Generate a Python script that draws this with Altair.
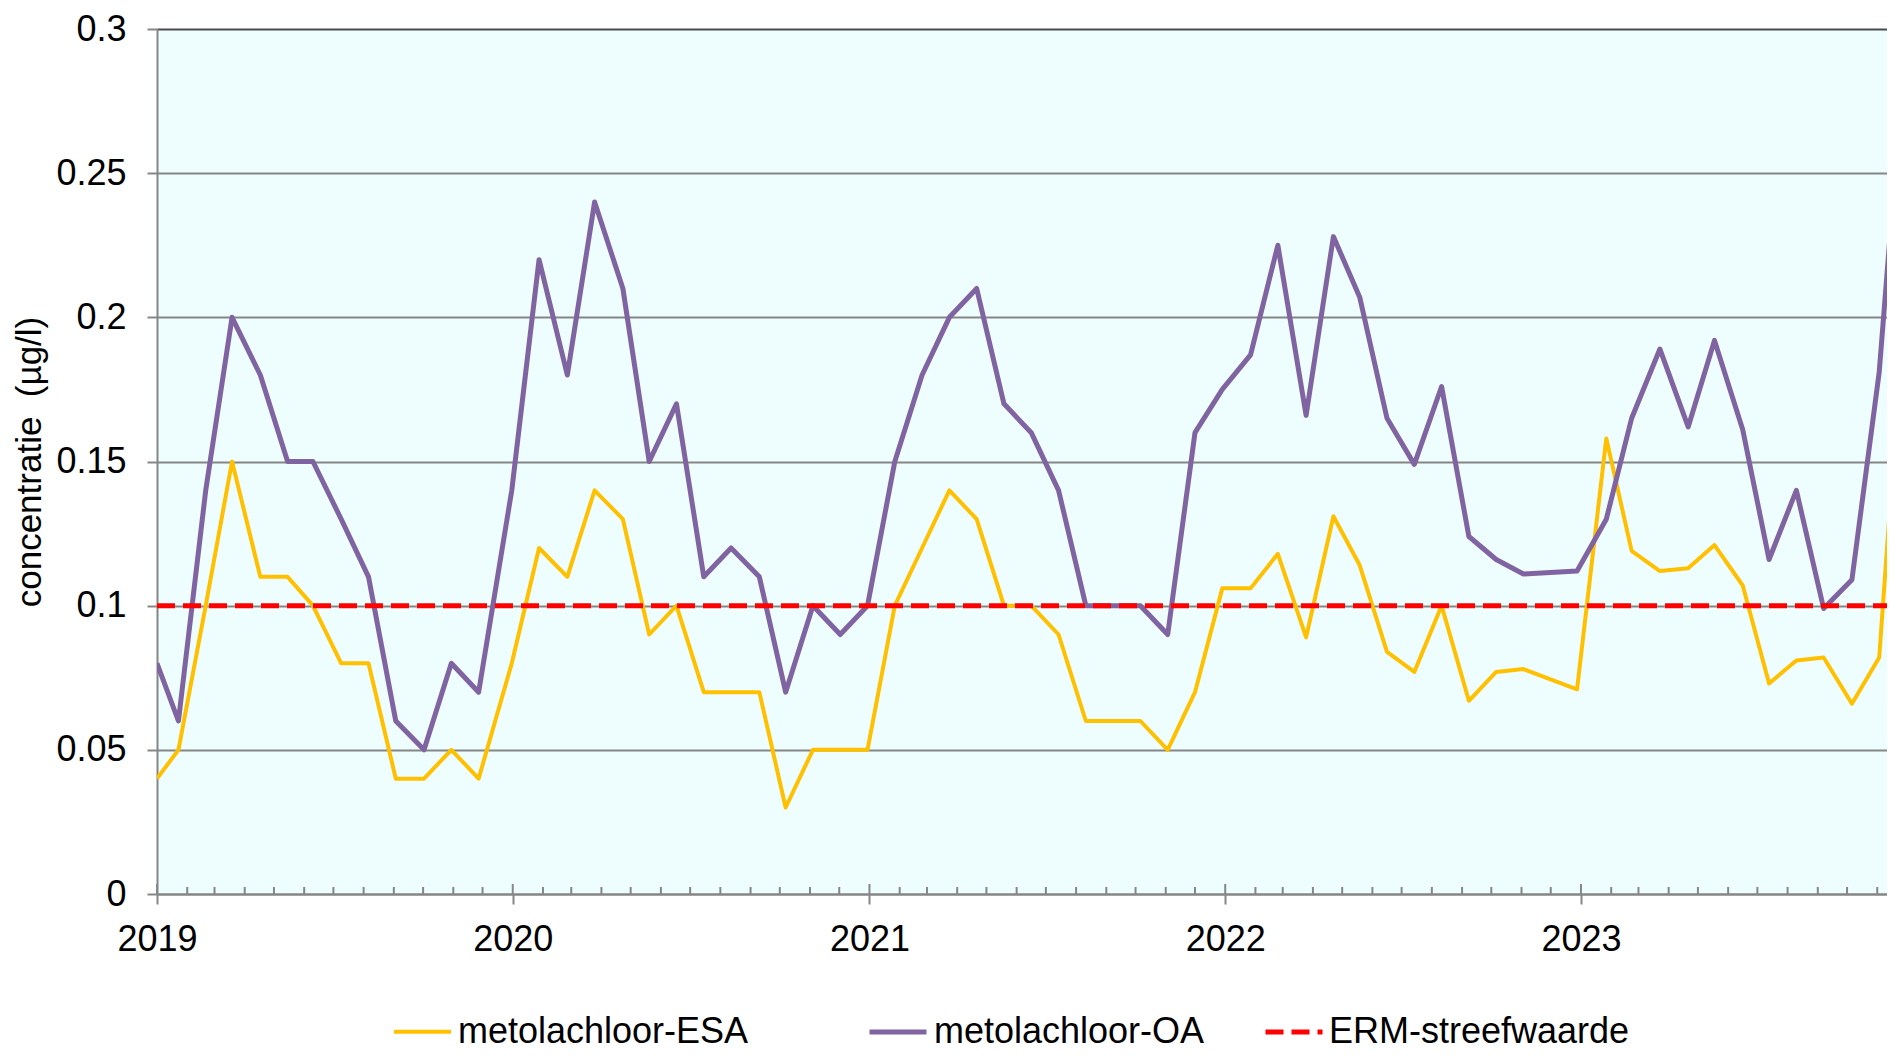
import altair as alt
import pandas as pd

# ---------------- data ----------------
dates = [
    "2019-01-01", "2019-01-23", "2019-02-20", "2019-03-19", "2019-04-17", "2019-05-15", "2019-06-10",
    "2019-07-09", "2019-08-06", "2019-09-03", "2019-10-02", "2019-10-30", "2019-11-27", "2019-12-31",
    "2020-01-28", "2020-02-26", "2020-03-25", "2020-04-23", "2020-05-20", "2020-06-17", "2020-07-15",
    "2020-08-12", "2020-09-10", "2020-10-07", "2020-11-04", "2020-12-02", "2020-12-30",
    "2021-01-27", "2021-02-24", "2021-03-24", "2021-04-21", "2021-05-19", "2021-06-16", "2021-07-14",
    "2021-08-11", "2021-09-08", "2021-10-06", "2021-11-03", "2021-12-01", "2021-12-29",
    "2022-01-27", "2022-02-24", "2022-03-25", "2022-04-22", "2022-05-19", "2022-06-16", "2022-07-14",
    "2022-08-11", "2022-09-08", "2022-10-06", "2022-11-03", "2022-12-28",
    "2023-01-27", "2023-02-22", "2023-03-23", "2023-04-21", "2023-05-18", "2023-06-16", "2023-07-13",
    "2023-08-10", "2023-09-07", "2023-10-06", "2023-11-03", "2023-12-01",
]

esa = [
    0.04, 0.05, 0.10, 0.15, 0.11, 0.11, 0.10, 0.08, 0.08, 0.04, 0.04, 0.05, 0.04, 0.08,
    0.12, 0.11, 0.14, 0.13, 0.09, 0.10, 0.07, 0.07, 0.07, 0.03, 0.05, 0.05, 0.05,
    0.10, 0.12, 0.14, 0.13, 0.10, 0.10, 0.09, 0.06, 0.06, 0.06, 0.05, 0.07, 0.106,
    0.106, 0.118, 0.089, 0.131, 0.114, 0.084, 0.077, 0.10, 0.067, 0.077, 0.078, 0.071,
    0.158, 0.119, 0.112, 0.113, 0.121, 0.107, 0.073, 0.081, 0.082, 0.066, 0.082, 0.215,
]

oa = [
    0.08, 0.06, 0.14, 0.20, 0.18, 0.15, 0.15, 0.13, 0.11, 0.06, 0.05, 0.08, 0.07, 0.14,
    0.22, 0.18, 0.24, 0.21, 0.15, 0.17, 0.11, 0.12, 0.11, 0.07, 0.10, 0.09, 0.10,
    0.15, 0.18, 0.20, 0.21, 0.17, 0.16, 0.14, 0.10, 0.10, 0.10, 0.09, 0.16, 0.175,
    0.187, 0.225, 0.166, 0.228, 0.207, 0.165, 0.149, 0.176, 0.124, 0.116, 0.111, 0.112,
    0.13, 0.165, 0.189, 0.162, 0.192, 0.161, 0.116, 0.14, 0.099, 0.109, 0.181, 0.30,
]

series_names = ["metolachloor-ESA", "metolachloor-OA"]
series_colors = ["#FFC000", "#8064A2"]
series_widths = [4, 5]

ref_name = "ERM-streefwaarde"
ref_value = 0.1
ref_dates = ["2019-01-01", "2023-12-31"]

year_ticks = [2019, 2020, 2021, 2022, 2023]
y_ticks = [0, 0.05, 0.1, 0.15, 0.2, 0.25, 0.3]

# ---------------- tables ----------------
df = pd.concat([
    pd.DataFrame({"date": dates, "value": esa, "series": series_names[0]}),
    pd.DataFrame({"date": dates, "value": oa, "series": series_names[1]}),
], ignore_index=True)

df_ref = pd.DataFrame({"date": ref_dates, "value": [ref_value] * len(ref_dates), "name": ref_name})

month_starts = [f"{y}-{m:02d}-01" for y in range(2019, 2024) for m in range(1, 13) if not (y == 2023 and m > 11)]
df_months = pd.DataFrame({"date": [d for d in month_starts if not d.endswith("-01-01")]})
df_years = pd.DataFrame({"date": [f"{y}-01-01" for y in year_ticks]})

# ---------------- layout ----------------
W, H = 1730, 865
GRID = "#868686"
FONT = "Liberation Sans"
FS = 36

x_scale = alt.Scale(
    type="utc",
    domain=[alt.DateTime(year=2019, month=1, date=1, utc=True),
            alt.DateTime(year=2023, month=11, date=11, utc=True)],
    nice=False,
)
x_axis = alt.Axis(
    values=[alt.DateTime(year=y, month=1, date=1, utc=True) for y in year_ticks],
    format="%Y", labelFontSize=FS, labelColor="black", labelFont=FONT,
    labelFlush=False, labelOverlap=False, labelPadding=18,
    tickSize=10, tickWidth=2, tickColor=GRID,
    domainColor=GRID, domainWidth=2, grid=False, title=None,
)
X = alt.X("date:T", scale=x_scale, axis=x_axis)

y_scale = alt.Scale(domain=[0, 0.3], nice=False, zero=True)
y_axis = alt.Axis(
    values=y_ticks, format=".2~f", labelFontSize=FS, labelColor="black", labelFont=FONT,
    labelPadding=21, tickSize=10, tickWidth=2, tickColor=GRID,
    domainColor=GRID, domainWidth=2,
    grid=True, gridWidth=2,
    gridColor={"condition": {"test": "datum.value === 0.3", "value": "#4a4a4a"}, "value": GRID},
    title="concentratie\u00a0 (µg/l)", titleFontSize=FS - 1, titleFontWeight="normal",
    titleColor="black", titleFont=FONT, titlePadding=8,
)
Y = alt.Y("value:Q", scale=y_scale, axis=y_axis)

LEG_Y = 972

lines = alt.Chart(df).mark_line(clip=True, strokeJoin="round").encode(
    x=X,
    y=Y,
    color=alt.Color(
        "series:N",
        scale=alt.Scale(domain=series_names, range=series_colors),
        legend=alt.Legend(
            orient="none", legendX=235, legendY=LEG_Y, direction="horizontal", title=None,
            symbolType="stroke", symbolSize=3249, symbolStrokeWidth=5,
            labelFontSize=FS, labelFont=FONT, labelColor="black", labelOffset=5,
            labelLimit=500, columnPadding=110,
        ),
    ),
    strokeWidth=alt.StrokeWidth("series:N", scale=alt.Scale(domain=series_names, range=series_widths), legend=None),
)

ref_line = alt.Chart(df_ref).mark_line(clip=True, color="#FF0000", strokeWidth=5, strokeCap="butt").encode(
    x=X,
    y=Y,
    strokeDash=alt.StrokeDash(
        "name:N",
        scale=alt.Scale(domain=[ref_name], range=[[18, 8]]),
        legend=alt.Legend(
            orient="none", legendX=1106, legendY=LEG_Y, direction="horizontal", title=None,
            symbolType="stroke", symbolSize=3249, symbolStrokeWidth=5, symbolStrokeColor="#FF0000",
            labelFontSize=FS, labelFont=FONT, labelColor="black", labelOffset=4, labelLimit=500,
        ),
    ),
)

minor_ticks = alt.Chart(df_months).mark_rule(color=GRID, strokeWidth=2).encode(
    x=X, y=alt.value(H), y2=alt.value(H - 7)
)
major_ticks = alt.Chart(df_years).mark_rule(color=GRID, strokeWidth=2).encode(
    x=X, y=alt.value(H), y2=alt.value(H - 10)
)

chart = alt.layer(minor_ticks, major_ticks, lines, ref_line).properties(
    width=W, height=H,
    padding={"left": 149, "top": 21, "right": 0, "bottom": 156},
    autosize=alt.AutoSizeParams(type="none"),
).configure(font=FONT).configure_view(fill="#EEFDFD", stroke="transparent")

chart.save("out.html", embed_options={"renderer": "svg", "actions": False})
